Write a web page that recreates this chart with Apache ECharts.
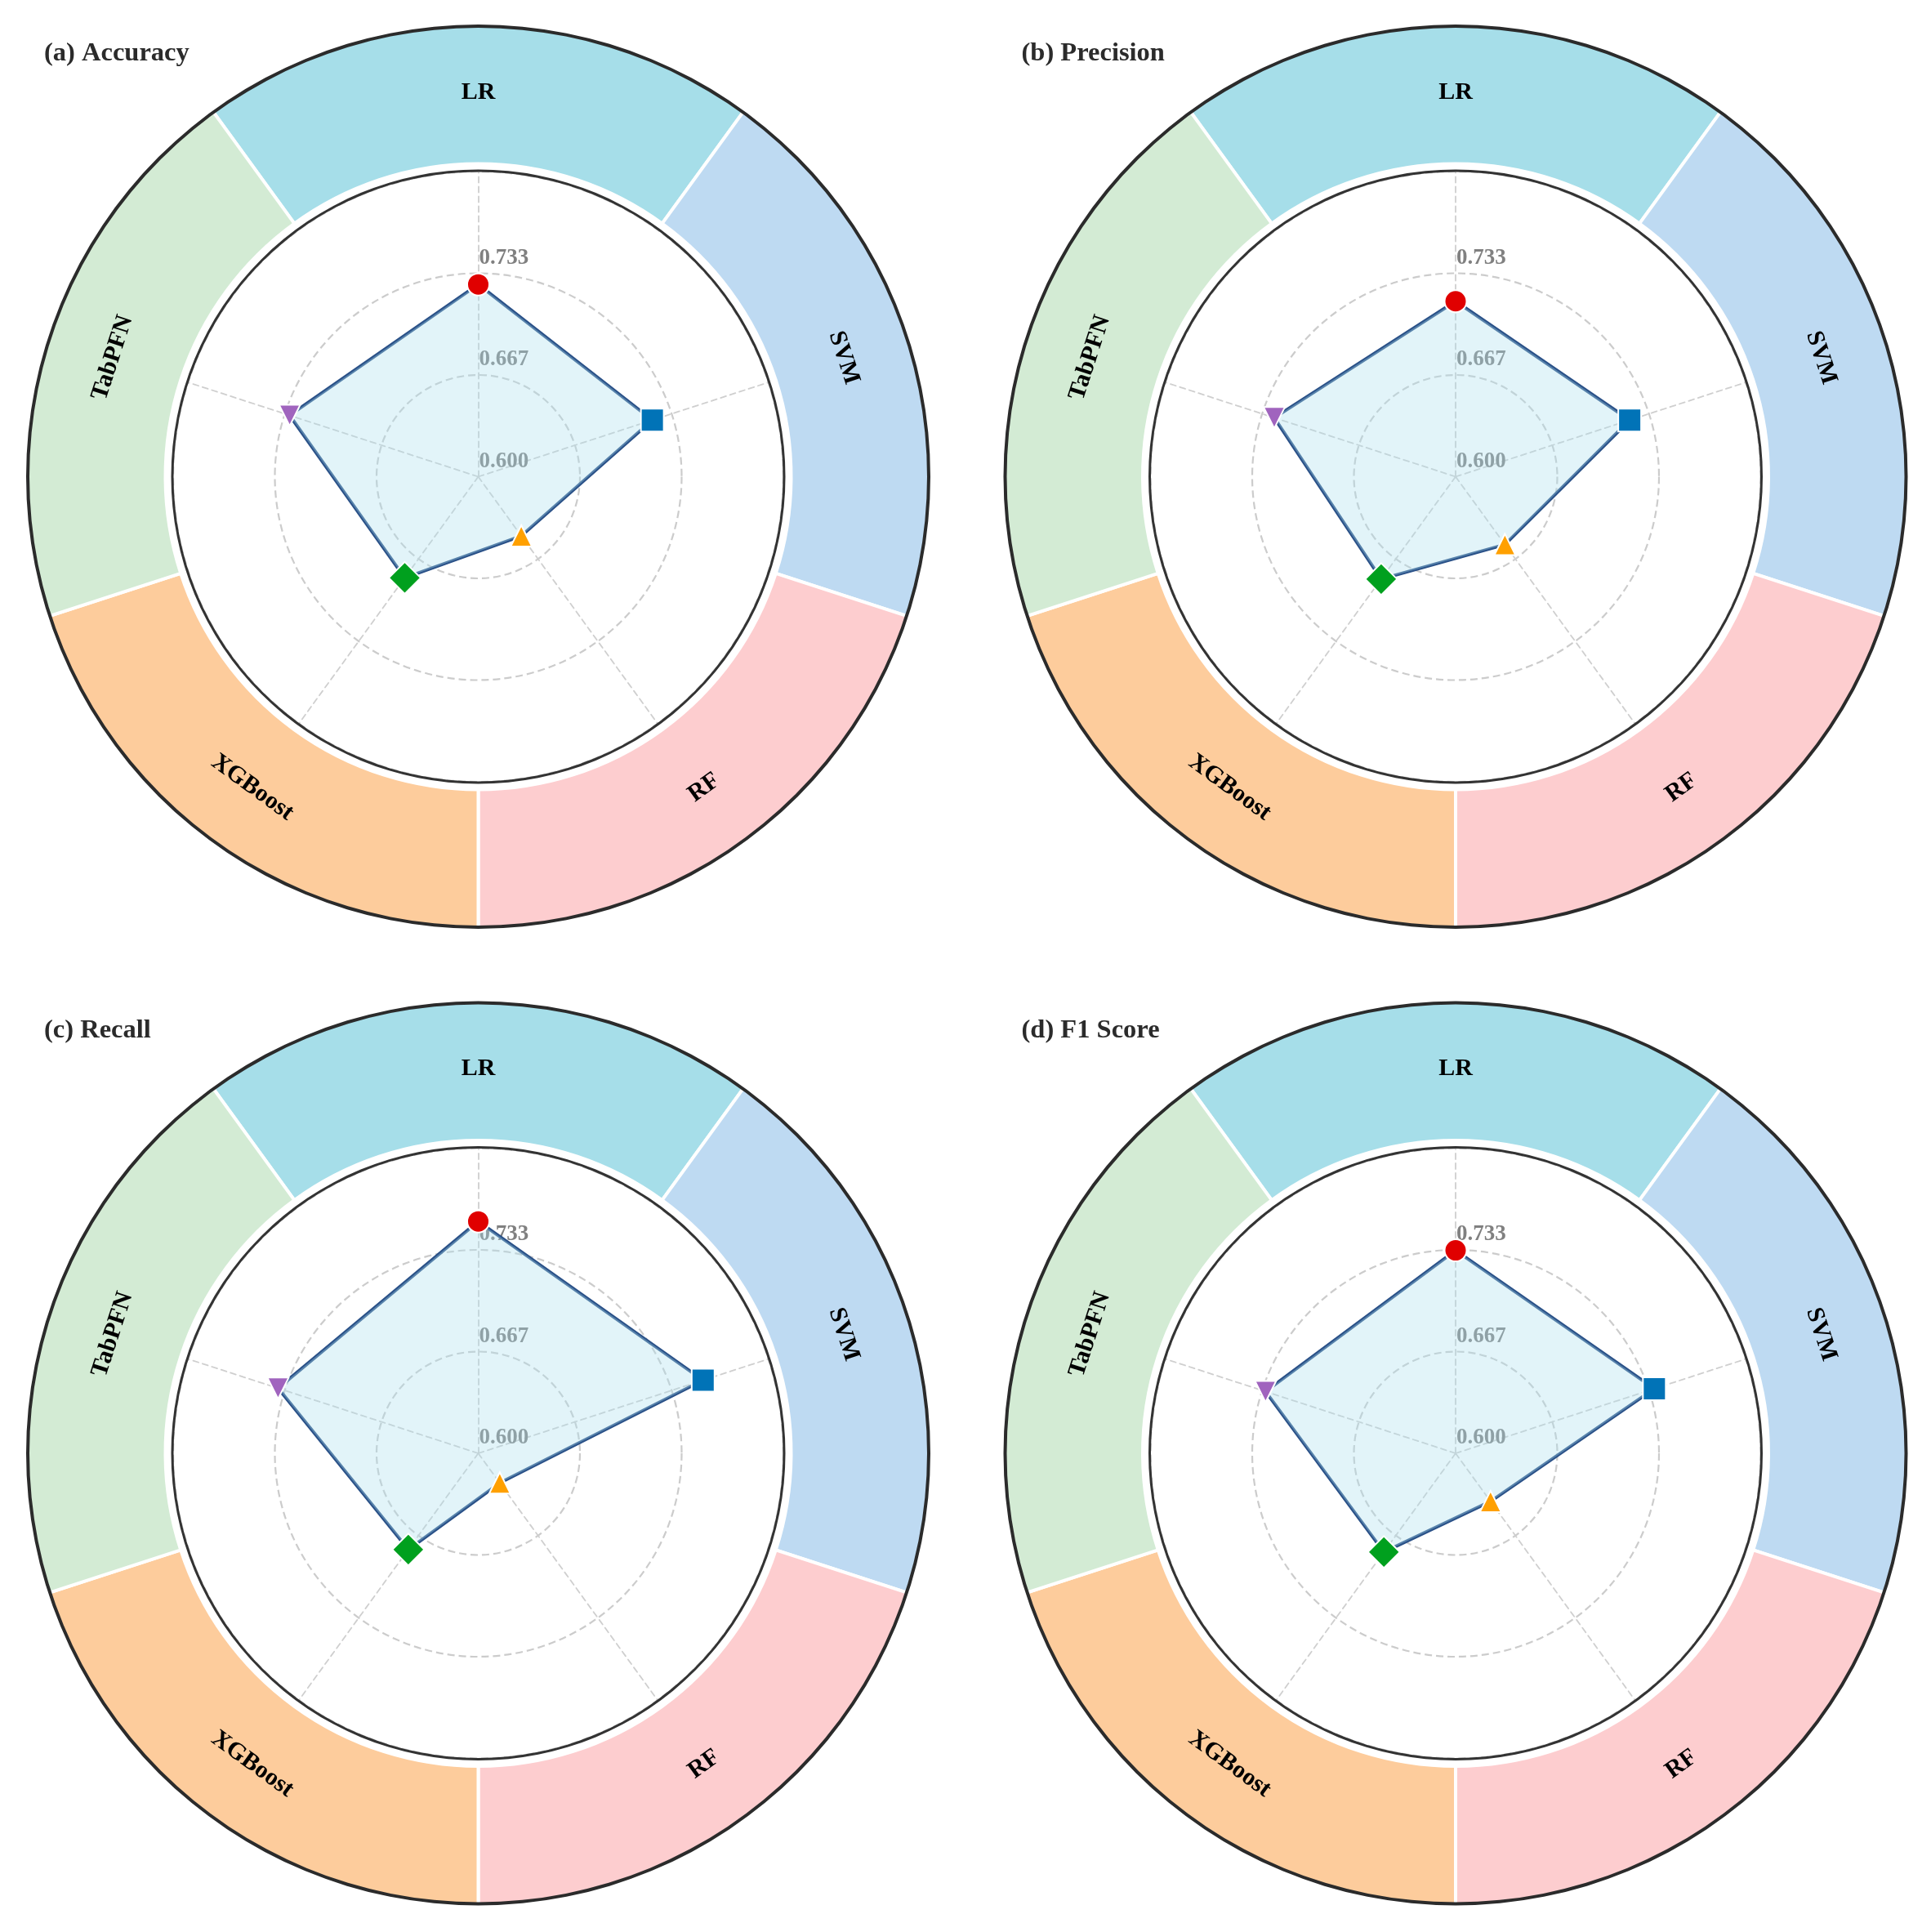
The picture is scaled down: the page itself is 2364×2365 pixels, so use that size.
<!DOCTYPE html>
<html lang="en">
  <head>
    <meta charset="utf-8" />
    <title>Radar -- model metrics</title>
    <script src="https://cdn.jsdelivr.net/npm/echarts@6/dist/echarts.min.js"></script>
    <style>
      html, body { margin: 0; padding: 0; background: #ffffff; }
      #chart { width: 2364px; height: 2365px; }
    </style>
  </head>
  <body>
    <div id="chart"></div>
    <script>
      // models around the ring, clockwise starting at the top
      var models = ['LR', 'SVM', 'RF', 'XGBoost', 'TabPFN']
      var panelTitles = ['(a) Accuracy', '(b) Precision', '(c) Recall', '(d) F1 Score']

      // metric values, same order as models
      var accuracy = [0.726, 0.720, 0.648, 0.682, 0.730]
      var precision = [0.715, 0.720, 0.655, 0.683, 0.725]
      var recall = [0.752, 0.755, 0.624, 0.678, 0.738]
      var f1Score = [0.733, 0.737, 0.639, 0.680, 0.731]

      var radialMin = 0.6
      var radialMax = 0.8

      var ringColors = ['#a6dee9', '#bedaf2', '#fdcdcf', '#fdcc9c', '#d3ebd4']
      var markerColors = ['#e00000', '#0173b7', '#ffa000', '#00a01e', '#a064be']
      var markerSymbols = ['circle', 'rect', 'triangle', 'diamond', 'triangle']
      var markerSizes = [27, 28, 26, 39, 26]
      var markerRotate = [0, 0, 0, 0, 180]

      var panelMetrics = [accuracy, precision, recall, f1Score]
      var centers = [[585.5, 583.5], [1782, 583.5], [585.5, 1779], [1782, 1779]]
      var R = 373.5
      var serif = 'Liberation Serif'

      // echarts radar runs counter-clockwise, so walk the models backwards
      var radarOrder = [0, 4, 3, 2, 1]

      var titles = []
      var radars = []
      var polars = []
      var angleAxes = []
      var radiusAxes = []
      var series = []

      panelMetrics.forEach(function (values, k) {
        var c = centers[k]
        titles.push({
          text: panelTitles[k],
          left: c[0] - 531.5,
          top: c[1] - 534,
          padding: 0,
          textStyle: { fontFamily: serif, fontWeight: 'bold', fontSize: 32.5, color: '#2b2b2b' }
        })

        radars.push({
          center: c,
          radius: R,
          shape: 'circle',
          startAngle: 90,
          splitNumber: 3,
          axisName: { show: false },
          indicator: radarOrder.map(function (m, i) {
            var ind = { name: models[m], min: radialMin, max: radialMax }
            if (i === 0) ind.axisLabel = { show: true }
            return ind
          }),
          axisTick: { show: false },
          axisLabel: {
            show: false,
            align: 'left',
            verticalAlign: 'bottom',
            margin: -1,
            padding: [0, 0, 5, 0],
            color: '#808080',
            fontFamily: serif,
            fontWeight: 'bold',
            fontSize: 27,
            formatter: function (v) { return v > radialMax - 0.01 ? '' : v.toFixed(3) }
          },
          axisLine: { lineStyle: { color: '#cfcfcf', width: 1.8, type: [7, 5] } },
          splitLine: { lineStyle: { color: '#cccccc', width: 2.2, type: [9, 5] } },
          splitArea: { show: false }
        })

        polars.push({ center: c, radius: R })
        angleAxes.push({
          polarIndex: k, type: 'category', data: models,
          startAngle: 90 + 36, clockwise: true, boundaryGap: true, show: false
        })
        radiusAxes.push({ polarIndex: k, min: radialMin, max: radialMax, show: false })

        // coloured model ring
        series.push({
          type: 'pie',
          center: c,
          radius: [383, 552],
          startAngle: 90 + 36,
          clockwise: true,
          silent: true,
          avoidLabelOverlap: false,
          emphasis: { disabled: true },
          itemStyle: { borderColor: '#ffffff', borderWidth: 4 },
          label: {
            show: true,
            position: 'inside',
            rotate: 'tangential',
            color: '#000000',
            fontFamily: serif,
            fontWeight: 'bold',
            fontSize: 30
          },
          labelLine: { show: false },
          data: models.map(function (m, i) {
            return { name: m, value: 1, itemStyle: { color: ringColors[i] } }
          })
        })
        // outer and inner black circles
        series.push({
          type: 'pie', center: c, radius: [549.5, 553.5], silent: true,
          label: { show: false }, labelLine: { show: false }, emphasis: { disabled: true },
          data: [{ value: 1, itemStyle: { color: '#2b2b2b' } }]
        })
        series.push({
          type: 'pie', center: c, radius: [373, 376], silent: true,
          label: { show: false }, labelLine: { show: false }, emphasis: { disabled: true },
          data: [{ value: 1, itemStyle: { color: '#333333' } }]
        })

        series.push({
          type: 'radar',
          radarIndex: k,
          symbol: 'none',
          silent: true,
          lineStyle: { color: '#2a5188', width: 4 },
          areaStyle: { color: 'rgba(172, 224, 238, 0.35)', opacity: 1 },
          data: [{ value: radarOrder.map(function (m) { return values[m] }) }]
        })

        series.push({
          type: 'scatter',
          coordinateSystem: 'polar',
          polarIndex: k,
          z: 5,
          silent: true,
          data: models.map(function (m, i) {
            return {
              value: [values[i], m],
              symbol: markerSymbols[i],
              symbolSize: markerSizes[i],
              symbolRotate: markerRotate[i],
              itemStyle: { color: markerColors[i], borderColor: '#ffffff', borderWidth: 2, opacity: 1 }
            }
          })
        })
      })

      var chart = echarts.init(document.getElementById('chart'))
      chart.setOption({
        backgroundColor: '#ffffff',
        animation: false,
        title: titles,
        radar: radars,
        polar: polars,
        angleAxis: angleAxes,
        radiusAxis: radiusAxes,
        series: series
      })
    </script>
  </body>
</html>
